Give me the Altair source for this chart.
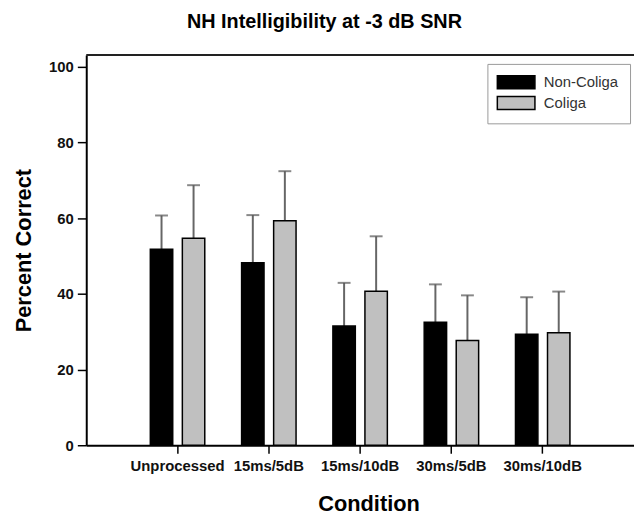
import altair as alt
import pandas as pd

conditions = ["Unprocessed", "15ms/5dB", "15ms/10dB", "30ms/5dB", "30ms/10dB"]
groups = ["Non-Coliga", "Coliga"]
non_coliga_mean = [51.8, 48.2, 31.5, 32.5, 29.3]
non_coliga_upper = [60.7, 60.8, 42.9, 42.5, 39.1]
coliga_mean = [54.7, 59.3, 40.7, 27.7, 29.7]
coliga_upper = [68.7, 72.4, 55.2, 39.6, 40.6]
y_ticks = [0, 20, 40, 60, 80, 100]

rows = []
for i, c in enumerate(conditions):
    rows.append({"Condition": c, "Group": groups[0], "mean": non_coliga_mean[i], "upper": non_coliga_upper[i]})
    rows.append({"Condition": c, "Group": groups[1], "mean": coliga_mean[i], "upper": coliga_upper[i]})
df = pd.DataFrame(rows)

W, H = 553, 394
FONT = "Liberation Sans"

x_enc = alt.X(
    "Condition:N",
    sort=conditions,
    scale=alt.Scale(paddingInner=0, paddingOuter=0.5),
    axis=alt.Axis(
        title="Condition", titleFont=FONT, titleFontSize=22, titleFontWeight="bold",
        titleColor="black", titleBaseline="alphabetic", titleX=285, titleY=66,
        labelFont=FONT, labelFontSize=15, labelFontWeight="bold", labelColor="#111",
        labelAngle=0, labelAlign="center", labelBaseline="top", labelPadding=6,
        tickSize=8, tickWidth=1.5, tickColor="black",
        domainColor="black", domainWidth=2,
    ),
)
xoff = alt.XOffset("Group:N", sort=groups, scale=alt.Scale(paddingInner=0.3, paddingOuter=0.575))
y_scale = alt.Scale(domain=[0, 103.1], nice=False)

bars = alt.Chart(df).mark_bar(stroke="black", strokeWidth=1.5).encode(
    x=x_enc,
    xOffset=xoff,
    y=alt.Y(
        "mean:Q", scale=y_scale,
        axis=alt.Axis(
            title="Percent Correct", values=y_ticks, grid=False,
            titleFont=FONT, titleFontSize=22, titleFontWeight="bold", titleColor="black",
            titleAngle=270, titleBaseline="alphabetic", titleAlign="center",
            titleX=-56, titleY=H / 2,
            labelFont=FONT, labelFontSize=15, labelFontWeight="bold", labelColor="#111",
            labelPadding=4, tickSize=9, tickWidth=1.5, tickColor="black",
            domainColor="black", domainWidth=2,
        ),
    ),
    color=alt.Color(
        "Group:N", sort=groups,
        scale=alt.Scale(domain=groups, range=["#000000", "#c0c0c0"]),
        legend=alt.Legend(
            title=None, orient="none", legendX=405, legendY=9,
            symbolType="M-2.92,-1H2.92V1H-2.92Z", symbolSize=169, symbolOffset=10.5,
            symbolStrokeColor="black", symbolStrokeWidth=1.5, symbolOpacity=1,
            labelFont=FONT, labelFontSize=15, labelColor="#333", labelOffset=20.5,
            strokeColor="#999", padding=11, rowPadding=2, fillColor="white",
        ),
    ),
)

err = alt.Chart(df).mark_rule(color="#666", strokeWidth=2).encode(
    x=alt.X("Condition:N", sort=conditions),
    xOffset=alt.XOffset("Group:N", sort=groups),
    y=alt.Y("mean:Q", scale=y_scale),
    y2="upper:Q",
)

caps = alt.Chart(df).mark_tick(color="#555", thickness=2, size=13, orient="horizontal").encode(
    x=alt.X("Condition:N", sort=conditions),
    xOffset=alt.XOffset("Group:N", sort=groups),
    y=alt.Y("upper:Q", scale=y_scale),
)

top_line = alt.Chart(pd.DataFrame({"a": [0]})).mark_rule(color="#222", strokeWidth=2).encode(
    x=alt.value(0), x2=alt.value(W), y=alt.value(0)
)

chart = alt.layer(err, caps, bars, top_line).properties(
    width=W, height=H,
    autosize=alt.AutoSizeParams(type="none"),
    padding={"left": 79, "top": 45, "right": 0, "bottom": 70},
    title=alt.Title(
        "NH Intelligibility at -3 dB SNR", font=FONT, fontSize=20, fontWeight="bold",
        color="black", anchor="middle", frame="group", dx=-36, offset=6,
        baseline="alphabetic",
    ),
).configure(background="white").configure_view(stroke=None)

chart.save("out.html", embed_options={"renderer": "svg", "actions": False})
